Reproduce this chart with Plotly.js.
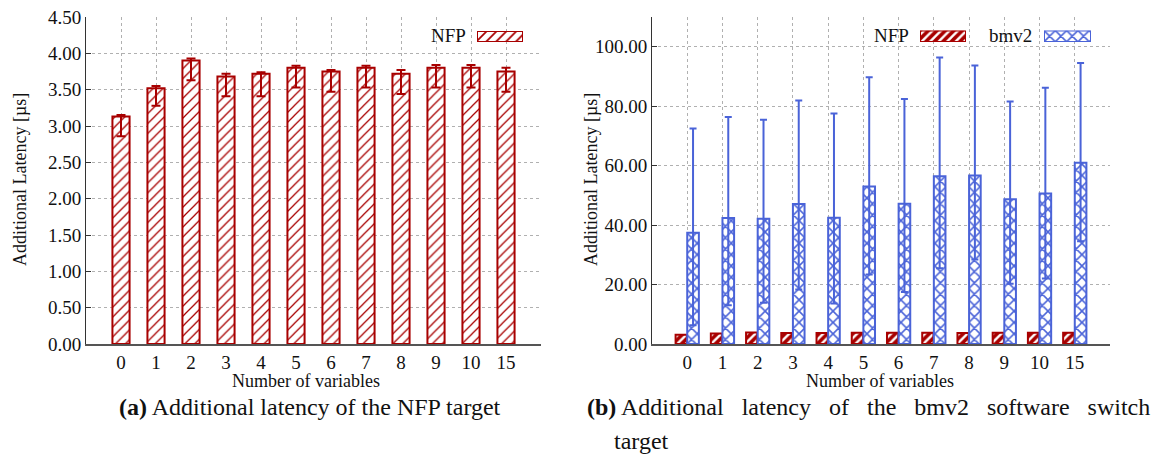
<!DOCTYPE html>
<html>
<head>
<meta charset="utf-8">
<script src="https://cdn.plot.ly/plotly-3.0.1.min.js"></script>
<style>html,body{margin:0;padding:0;background:#fff;}#chart{width:1162px;height:459px;}</style>
</head>
<body>
<div id="chart"></div>
<script>
// ---- data ----
const categories = ["0","1","2","3","4","5","6","7","8","9","10","15"];
const nfpMean = [3.13, 3.52, 3.90, 3.68, 3.72, 3.80, 3.75, 3.80, 3.72, 3.80, 3.80, 3.75];
const nfpHigh = [3.15, 3.55, 3.93, 3.72, 3.74, 3.83, 3.77, 3.83, 3.77, 3.84, 3.84, 3.80];
const nfpLow  = [2.86, 3.28, 3.63, 3.41, 3.41, 3.53, 3.47, 3.53, 3.44, 3.53, 3.53, 3.47];
const bmv2Mean = [37.4, 42.4, 42.1, 47.1, 42.5, 53.0, 47.2, 56.4, 56.7, 48.7, 50.6, 61.0];
const bmv2High = [72.5, 76.4, 75.4, 81.9, 77.5, 89.7, 82.4, 96.4, 93.7, 81.6, 86.2, 94.5];
const bmv2Low  = [6.3, 13.0, 13.9, 18.3, 13.6, 23.4, 17.5, 25.5, 28.4, 20.3, 22.0, 34.6];
const seriesNames = ["NFP", "bmv2"];
const legendSwatch = [1];

// ---- styles ----
const RED = "#a80000";
const BLUE = "#4a63d8";
const FONT = "Liberation Serif, Times New Roman, serif";
const W = 1162, H = 459;
const px = v => v / W;
const py = v => 1 - v / H;
const SP = " &nbsp;&nbsp;";

const plus = (m, h) => m.map((v, i) => h[i] - v);
const minus = (m, l) => m.map((v, i) => v - l[i]);

const redLeftPattern = { shape: "/", fgcolor: RED, bgcolor: "white", size: 7, solidity: 0.18, fillmode: "replace" };
const redDensePattern = { shape: "/", fgcolor: RED, bgcolor: "white", size: 6, solidity: 0.6, fillmode: "replace" };
const bluePattern = { shape: "x", fgcolor: BLUE, bgcolor: "white", size: 8, solidity: 0.35, fillmode: "replace" };

const traces = [
  { // left: NFP
    type: "bar", x: categories, y: nfpMean, xaxis: "x", yaxis: "y",
    width: 0.49, name: seriesNames[0], showlegend: false,
    marker: { color: "white", line: { color: RED, width: 2 }, pattern: redLeftPattern },
    error_y: { type: "data", symmetric: false, array: plus(nfpMean, nfpHigh), arrayminus: minus(nfpMean, nfpLow),
      color: RED, thickness: 2, width: 4.5 }
  },
  { // right: NFP
    type: "bar", x: categories, y: nfpMean, xaxis: "x2", yaxis: "y2",
    width: 0.32, offset: -0.33, name: seriesNames[0], showlegend: false,
    marker: { color: "white", line: { color: RED, width: 2 }, pattern: redDensePattern }
  },
  { // right: bmv2
    type: "bar", x: categories, y: bmv2Mean, xaxis: "x2", yaxis: "y2",
    width: 0.33, offset: 0.0, name: seriesNames[1], showlegend: false,
    marker: { color: "white", line: { color: BLUE, width: 2 }, pattern: bluePattern },
    error_y: { type: "data", symmetric: false, array: plus(bmv2Mean, bmv2High), arrayminus: minus(bmv2Mean, bmv2Low),
      color: BLUE, thickness: 2, width: 3.5 }
  },
  // legend swatches
  { type: "bar", x: [0], y: legendSwatch, xaxis: "x3", yaxis: "y3", width: 1, showlegend: false, hoverinfo: "skip",
    marker: { color: "white", line: { color: RED, width: 2 },
      pattern: { shape: "/", fgcolor: RED, bgcolor: "white", size: 7, solidity: 0.25, fillmode: "replace" } } },
  { type: "bar", x: [0], y: legendSwatch, xaxis: "x4", yaxis: "y4", width: 1, showlegend: false, hoverinfo: "skip",
    marker: { color: "white", line: { color: RED, width: 2 }, pattern: redDensePattern } },
  { type: "bar", x: [0], y: legendSwatch, xaxis: "x5", yaxis: "y5", width: 1, showlegend: false, hoverinfo: "skip",
    marker: { color: "white", line: { color: BLUE, width: 2 }, pattern: bluePattern } }
];

const gridStyle = { showgrid: true, gridcolor: "#b0b0b0", griddash: "dot", gridwidth: 1 };
const xBase = Object.assign({}, gridStyle, {
  type: "category", categoryorder: "array", categoryarray: categories, range: [-1, 12],
  showline: true, linecolor: "#555", linewidth: 2, ticks: "", zeroline: false,
  tickfont: { family: FONT, size: 19, color: "#111" }, fixedrange: true
});
const yBase = Object.assign({}, gridStyle, {
  showline: true, linecolor: "#333", linewidth: 1, ticks: "inside", ticklen: 5, tickcolor: "#333",
  zeroline: false, tickformat: ".2f", tickfont: { family: FONT, size: 19, color: "#111" }, fixedrange: true
});
const swatchAxis = (dx) => ({ domain: dx, visible: false, range: [-0.5, 0.5], fixedrange: true });
const swatchYAxis = (dy) => ({ domain: dy, visible: false, range: [0, 1], fixedrange: true });
const titleFont = { family: FONT, size: 18, color: "#111" };
const labelFont = { family: FONT, size: 19, color: "#111" };
const capFont = { family: FONT, size: 24, color: "#111" };

const layout = {
  width: W, height: H, margin: { l: 0, r: 0, t: 0, b: 0 },
  paper_bgcolor: "white", plot_bgcolor: "white", showlegend: false, barmode: "overlay",
  font: { family: FONT, color: "#111" },
  xaxis: Object.assign({}, xBase, { domain: [px(86), px(541)], anchor: "y" }),
  yaxis: Object.assign({}, yBase, { domain: [py(344), py(17)], range: [0, 4.5], dtick: 0.5, anchor: "x" }),
  xaxis2: Object.assign({}, xBase, { domain: [px(652), px(1110)], anchor: "y2" }),
  yaxis2: Object.assign({}, yBase, { domain: [py(344), py(17)], range: [0, 110], dtick: 20, anchor: "x2" }),
  xaxis3: Object.assign(swatchAxis([px(477), px(523)]), { anchor: "y3" }),
  yaxis3: Object.assign(swatchYAxis([py(42), py(31)]), { anchor: "x3" }),
  xaxis4: Object.assign(swatchAxis([px(920), px(966)]), { anchor: "y4" }),
  yaxis4: Object.assign(swatchYAxis([py(42), py(30.5)]), { anchor: "x4" }),
  xaxis5: Object.assign(swatchAxis([px(1044), px(1091)]), { anchor: "y5" }),
  yaxis5: Object.assign(swatchYAxis([py(42), py(30.5)]), { anchor: "x5" }),
  annotations: [
    // legend labels
    { text: seriesNames[0], xref: "paper", yref: "paper", x: px(468), y: py(36), xanchor: "right", yanchor: "middle",
      showarrow: false, font: labelFont },
    { text: seriesNames[0], xref: "paper", yref: "paper", x: px(911), y: py(36), xanchor: "right", yanchor: "middle",
      showarrow: false, font: labelFont },
    { text: seriesNames[1], xref: "paper", yref: "paper", x: px(1034), y: py(36), xanchor: "right", yanchor: "middle",
      showarrow: false, font: labelFont },
    // axis titles
    { text: "Additional Latency [µs]", xref: "paper", yref: "paper", x: px(20), y: py(180), textangle: -90,
      xanchor: "center", yanchor: "middle", showarrow: false, font: titleFont },
    { text: "Additional Latency [µs]", xref: "paper", yref: "paper", x: px(591), y: py(180), textangle: -90,
      xanchor: "center", yanchor: "middle", showarrow: false, font: titleFont },
    { text: "Number of variables", xref: "paper", yref: "paper", x: px(306), y: py(381),
      xanchor: "center", yanchor: "middle", showarrow: false, font: titleFont },
    { text: "Number of variables", xref: "paper", yref: "paper", x: px(880), y: py(381),
      xanchor: "center", yanchor: "middle", showarrow: false, font: titleFont },
    // captions
    { text: "<b>(a)</b> Additional latency of the NFP target", xref: "paper", yref: "paper", x: px(117), y: py(407),
      xanchor: "left", yanchor: "middle", showarrow: false, font: capFont },
    { text: "<b>(b)</b> Additional" + SP + "latency" + SP + "of" + SP + "the" + SP + "bmv2" + SP + "software" + SP + "switch",
      xref: "paper", yref: "paper", x: px(585), y: py(407),
      xanchor: "left", yanchor: "middle", showarrow: false, font: capFont },
    { text: "target", xref: "paper", yref: "paper", x: px(612), y: py(441),
      xanchor: "left", yanchor: "middle", showarrow: false, font: capFont }
  ]
};

Plotly.newPlot("chart", traces, layout, { staticPlot: true, displayModeBar: false });
</script>
</body>
</html>
